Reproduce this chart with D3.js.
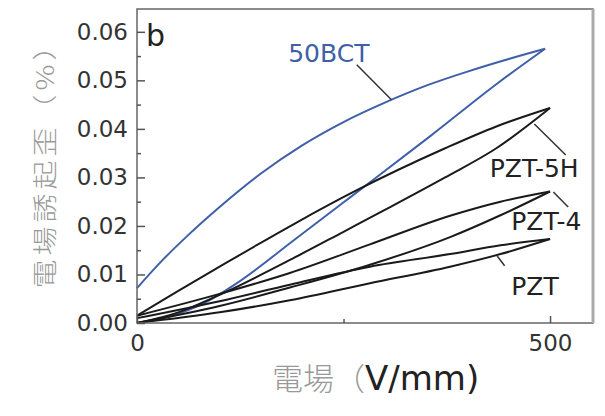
<!DOCTYPE html>
<html>
<head>
<meta charset="utf-8">
<script src="https://cdn.jsdelivr.net/npm/d3@7"></script>
<style>
  body { margin: 0; background: #fff; }
  .axis text { fill: #333; font-family: 'DejaVu Sans'; font-size: 23px; }
  .axis line { stroke: #555; stroke-width: 1.5; }
</style>
</head>
<body>
<svg class="chart"></svg>
<script>
// field (V/mm) vs strain (%) loops
var bctRise = [[0,0],[40,0.0014],[80,0.004],[120,0.0081],[191,0.0172],[262,0.0264],[355,0.0385],[435,0.0492],[494,0.0565]];
var bctFall = [[0,0.0072],[30,0.0128],[60,0.0178],[100,0.0239],[150,0.0308],[200,0.0366],[250,0.0414],[300,0.0454],[350,0.0489],[400,0.0518],[450,0.0544],[494,0.0565]];
var pzt5hRise = [[0,0],[50,0.0022],[100,0.0058],[191,0.0135],[250,0.0188],[300,0.0233],[373,0.03],[435,0.036],[500,0.0443]];
var pzt5hFall = [[0,0.0015],[50,0.0066],[100,0.0116],[191,0.0205],[262,0.027],[373,0.036],[435,0.0405],[500,0.0443]];
var pzt4Rise = [[0,0],[100,0.0035],[185,0.0073],[282,0.012],[379,0.0177],[440,0.0222],[500,0.0271]];
var pzt4Fall = [[0,0.0015],[100,0.006],[185,0.0103],[282,0.0162],[379,0.0221],[440,0.025],[500,0.0271]];
var pztRise = [[0,0],[100,0.0022],[185,0.0047],[282,0.0082],[379,0.0116],[440,0.0142],[500,0.0173]];
var pztFall = [[0,0.001],[100,0.0045],[185,0.0079],[282,0.0116],[379,0.0142],[440,0.016],[500,0.0173]];

var seriesNames = ['50BCT', 'PZT-5H', 'PZT-4', 'PZT'];
var seriesColors = ['#3f5fa8', '#1a1a1a', '#1a1a1a', '#1a1a1a'];
var seriesLoops = [[bctRise, bctFall], [pzt5hRise, pzt5hFall], [pzt4Rise, pzt4Fall], [pztRise, pztFall]];
// label anchor and leader line, in data units
var labelPos = [[183, 0.0538], [427, 0.0301], [453, 0.0192], [453, 0.0058]];
var leaders = [[[266, 0.0532], [308, 0.046]], [[519, 0.0346], [481, 0.041]], [[522, 0.0239], [504, 0.027]], [[445, 0.0118], [436, 0.0138]]];

var yTicks = [0, 0.01, 0.02, 0.03, 0.04, 0.05, 0.06];
var yMinor = [0.005, 0.015, 0.025, 0.035, 0.045, 0.055];
var xTicks = [0, 500];
var xMinor = [250];

var margin = {top: 9, right: 12, bottom: 93, left: 137},
  width = 605 - margin.left - margin.right,
  height = 416 - margin.top - margin.bottom;

var chart = d3.select('.chart')
  .attr('width', width + margin.left + margin.right)
  .attr('height', height + margin.top + margin.bottom);

var x = d3.scaleLinear().domain([0, 552]).range([0, width]),
  y = d3.scaleLinear().domain([0, 0.0647]).range([height, 0]);

var g = chart.append('g')
  .attr('transform', 'translate(' + margin.left + ',' + margin.top + ')');

var line = d3.line()
  .x(function(d) { return x(d[0]); })
  .y(function(d) { return y(d[1]); })
  .curve(d3.curveMonotoneX);

// loops: rising branch and falling branch
seriesLoops.forEach(function(loop, i) {
  loop.forEach(function(branch) {
    g.append('path')
      .datum(branch)
      .attr('fill', 'none')
      .attr('stroke', seriesColors[i])
      .attr('stroke-width', 2)
      .attr('stroke-linejoin', 'round')
      .attr('d', line);
  });
});

// frame
g.append('rect')
  .attr('width', width).attr('height', height)
  .attr('fill', 'none').attr('stroke', '#666').attr('stroke-width', 1.5);
g.append('line')
  .attr('x1', width).attr('x2', width).attr('y1', 0).attr('y2', height)
  .attr('stroke', '#aaa').attr('stroke-width', 3);

// y axis, ticks pointing in
g.append('g')
  .attr('class', 'axis')
  .call(d3.axisLeft(y).tickValues(yTicks).tickSize(-8).tickPadding(9).tickFormat(d3.format('.2f')))
  .call(function(a) { a.select('.domain').remove(); });
g.append('g')
  .attr('class', 'axis')
  .call(d3.axisLeft(y).tickValues(yMinor).tickSize(-4).tickFormat(''))
  .call(function(a) { a.select('.domain').remove(); });

// x axis
g.append('g')
  .attr('class', 'axis')
  .attr('transform', 'translate(0,' + height + ')')
  .call(d3.axisBottom(x).tickValues(xTicks).tickSize(-7).tickPadding(12).tickFormat(d3.format('d')))
  .call(function(a) { a.select('.domain').remove(); });
g.append('g')
  .attr('class', 'axis')
  .attr('transform', 'translate(0,' + height + ')')
  .call(d3.axisBottom(x).tickValues(xMinor).tickSize(-4).tickFormat(''))
  .call(function(a) { a.select('.domain').remove(); });

// series labels + leaders
g.selectAll('.lbl')
  .data(seriesNames)
  .enter().append('text')
  .attr('class', 'lbl')
  .attr('x', function(d, i) { return x(labelPos[i][0]); })
  .attr('y', function(d, i) { return y(labelPos[i][1]); })
  .attr('font-family', 'DejaVu Sans').attr('font-size', 25)
  .attr('fill', function(d, i) { return i == 0 ? '#3f5fa8' : '#222'; })
  .text(function(d) { return d; });

g.selectAll('.leader')
  .data(leaders)
  .enter().append('line')
  .attr('class', 'leader')
  .attr('x1', function(d) { return x(d[0][0]); })
  .attr('y1', function(d) { return y(d[0][1]); })
  .attr('x2', function(d) { return x(d[1][0]); })
  .attr('y2', function(d) { return y(d[1][1]); })
  .attr('stroke', '#333').attr('stroke-width', 1.5);

// panel letter
g.append('text')
  .attr('x', 9).attr('y', 37)
  .attr('font-family', 'DejaVu Sans').attr('font-size', 30)
  .attr('fill', '#222')
  .text('b');

// axis titles
chart.append('text')
  .attr('transform', 'translate(43,158) rotate(-90) scale(1,0.85)')
  .attr('text-anchor', 'middle')
  .attr('dominant-baseline', 'central')
  .attr('font-family', 'Noto Sans CJK JP').attr('font-size', 29).attr('font-weight', 300)
  .attr('letter-spacing', 4)
  .attr('fill', '#999')
  .text('電場誘起歪（%）');

var xt = chart.append('text')
  .attr('x', 272).attr('y', 390);
xt.append('tspan')
  .attr('font-family', 'Noto Sans CJK JP').attr('font-size', 31).attr('font-weight', 300)
  .attr('fill', '#999')
  .text('電場（');
xt.append('tspan')
  .attr('font-family', 'DejaVu Sans').attr('font-size', 34)
  .attr('fill', '#222')
  .text('V/mm)');
</script>
</body>
</html>
